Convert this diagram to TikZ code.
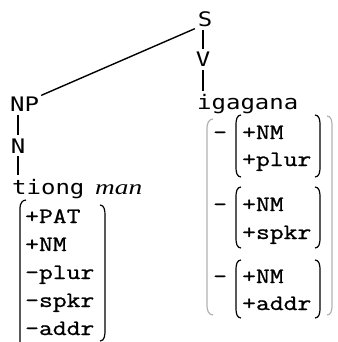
\documentclass[tikz,border=0pt]{standalone}
\usepackage{fontspec}
\newfontfamily\treefont[FakeStretch=1.2]{DejaVu Sans Mono}
\newfontfamily\featfont[FakeStretch=1.22,FakeBold=1]{Latin Modern Mono}
\newfontfamily\glossfont[FakeStretch=1.3]{Liberation Serif}
\begin{document}
\begin{tikzpicture}[x=1pt,y=-1pt,
  tree/.style={font=\treefont\fontsize{20}{20}\selectfont,inner sep=0pt},
  feat/.style={font=\featfont\fontsize{22}{22}\selectfont,inner sep=0pt,anchor=base west},
  branch/.style={line width=1.4pt},
  paren/.style={line width=1.2pt},
  bigparen/.style={line width=1.2pt,gray!60}]
\useasboundingbox (0,0) rectangle (337,342);
% tree labels
\node[tree,anchor=base] (S) at (205,27) {S};
\node[tree,anchor=base] (V) at (203,67) {V};
\node[tree,anchor=base west] (igagana) at (197,110) {igagana};
\node[tree,anchor=base west] (NP) at (10,111) {NP};
\node[tree,anchor=base] (N) at (18,153) {N};
\node[tree,anchor=base west] (tiong) at (12,194) {tiong};
\node[font=\glossfont\itshape\fontsize{21}{21}\selectfont,inner sep=0pt,anchor=base west] (man) at (95,194) {man};
% branches
\draw[branch,shorten <=3pt,shorten >=2pt] (S.south west) -- (NP.north east);
\draw[branch,shorten <=3pt,shorten >=3pt] (S.south -| V) -- (V.north);
\draw[branch,shorten <=3pt,shorten >=4pt] (V.south) -- (V.south |- igagana.north);
\draw[branch,shorten <=4pt,shorten >=3pt] (N.north |- NP.south) -- (N.north);
\draw[branch,shorten <=3pt,shorten >=4pt] (N.south) -- (N.south |- tiong.north);
% left feature matrix
\node[feat] (f1) at (25,223) {+PAT};
\node[feat] (f2) at (25,251) {+NM};
\node[feat] (f3) at (25,279) {-plur};
\node[feat] (f4) at (25,307) {-spkr};
\node[feat] (f5) at (25,335) {-addr};
\draw[paren] (26,200) to[out=180,in=90] (20,208) -- (20,343);
\draw[paren] (100,205) to[out=0,in=90] (105,215) -- (105,330) to[out=-90,in=0] (100,341);
% right feature matrix
\draw[bigparen] (213,119) to[out=180,in=90] (207,128) -- (207,306) to[out=-90,in=180] (213,315);
\draw[bigparen] (327,116) to[out=0,in=90] (332,125) -- (332,306) to[out=-90,in=0] (327,315);
\node[feat] (m1) at (213,139) {-};
\node[feat] (g1a) at (242,139) {+NM};
\node[feat] (g1b) at (242,166) {+plur};
\node[feat] (m2) at (213,211) {-};
\node[feat] (g2a) at (242,211) {+NM};
\node[feat] (g2b) at (242,239) {+spkr};
\node[feat] (m3) at (213,283) {-};
\node[feat] (g3a) at (242,283) {+NM};
\node[feat] (g3b) at (242,310) {+addr};
\foreach \t/\b in {115/177,187/248,260/318}{
  \draw[paren] (241,\t) to[out=180,in=90] (236,\t+9) -- (236,\b-9) to[out=-90,in=180] (241,\b);
  \draw[paren] (315,\t) to[out=0,in=90] (320,\t+9) -- (320,\b-9) to[out=-90,in=0] (315,\b);
}
\end{tikzpicture}
\end{document}
